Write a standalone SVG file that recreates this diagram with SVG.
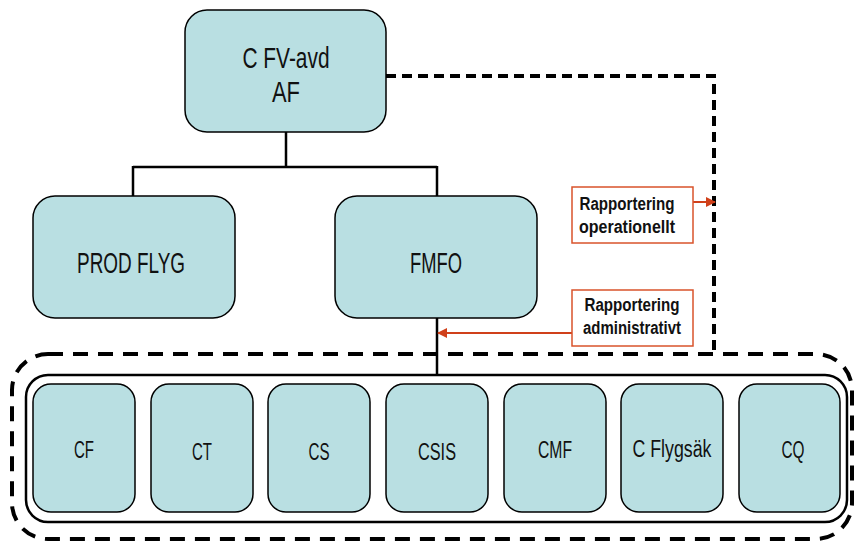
<svg xmlns="http://www.w3.org/2000/svg" width="854" height="541" viewBox="0 0 854 541">
<defs>
<style>
.box{fill:#b9dfe2;stroke:#000;stroke-width:1.5}
.t{font-family:"Liberation Sans",Arial,sans-serif;fill:#111;text-anchor:middle}
.big{font-size:29px}
.sm{font-size:23px}
.lbl{font-size:18px;font-weight:bold}
.lb{fill:#fff;stroke:#d9532b;stroke-width:1.5}
.conn{fill:none;stroke:#000;stroke-width:2.5}
.dash{fill:none;stroke:#000;stroke-width:4;stroke-dasharray:10 6}
.red{fill:none;stroke:#d0401a;stroke-width:2}
</style>
<marker id="ah" viewBox="0 0 10 10" refX="9" refY="5" markerWidth="5" markerHeight="5" orient="auto"><path d="M0,0 L10,5 L0,10 z" fill="#d0401a"/></marker>
</defs>
<g id="connectors">
<path class="conn" d="M286,132 V167 M133,167 H437 M133,166 V197 M437,166 V197 M437,318 V375"/>
<path class="dash" d="M386,76 H714 V353"/>
<path class="red" d="M572,333 H438" marker-end="url(#ah)"/>
<path class="red" d="M693,202 H715" marker-end="url(#ah)"/>
</g>
<g id="group-outer">
<rect x="12" y="354" width="840" height="185" rx="36" fill="none" stroke="#000" stroke-width="4" stroke-dasharray="15 10"/>
<rect x="26" y="375" width="821" height="147" rx="22" fill="none" stroke="#000" stroke-width="2.5"/>
</g>
<g id="n-cfv"><rect class="box" x="185" y="10" width="201" height="122" rx="22"/>
<text class="t big" x="286" y="68" textLength="87" lengthAdjust="spacingAndGlyphs">C FV-avd</text>
<text class="t big" x="286" y="102" textLength="28" lengthAdjust="spacingAndGlyphs">AF</text></g>
<g id="n-prod"><rect class="box" x="33" y="196" width="202" height="122" rx="22"/>
<text class="t big" x="131" y="273" textLength="108" lengthAdjust="spacingAndGlyphs">PROD FLYG</text></g>
<g id="n-fmfo"><rect class="box" x="335" y="196" width="202" height="122" rx="22"/>
<text class="t big" x="436" y="273" textLength="52" lengthAdjust="spacingAndGlyphs">FMFO</text></g>
<g id="n-op"><rect class="lb" x="572" y="187" width="121" height="56"/>
<text class="t lbl" x="627" y="210" textLength="95" lengthAdjust="spacingAndGlyphs">Rapportering</text>
<text class="t lbl" x="627" y="233" textLength="96" lengthAdjust="spacingAndGlyphs">operationellt</text></g>
<g id="n-adm"><rect class="lb" x="572" y="290" width="121" height="56"/>
<text class="t lbl" x="632" y="311" textLength="95" lengthAdjust="spacingAndGlyphs">Rapportering</text>
<text class="t lbl" x="632" y="334" textLength="98" lengthAdjust="spacingAndGlyphs">administrativt</text></g>
<g id="n-cf"><rect class="box" x="33" y="384" width="102" height="128" rx="18"/><text class="t sm" x="84" y="458" textLength="20" lengthAdjust="spacingAndGlyphs">CF</text></g>
<g id="n-ct"><rect class="box" x="151" y="384" width="102" height="128" rx="18"/><text class="t sm" x="202" y="460" textLength="20" lengthAdjust="spacingAndGlyphs">CT</text></g>
<g id="n-cs"><rect class="box" x="268" y="384" width="102" height="128" rx="18"/><text class="t sm" x="319" y="460" textLength="21" lengthAdjust="spacingAndGlyphs">CS</text></g>
<g id="n-csis"><rect class="box" x="386" y="384" width="102" height="128" rx="18"/><text class="t sm" x="437" y="460" textLength="38" lengthAdjust="spacingAndGlyphs">CSIS</text></g>
<g id="n-cmf"><rect class="box" x="504" y="384" width="102" height="128" rx="18"/><text class="t sm" x="555" y="458" textLength="34" lengthAdjust="spacingAndGlyphs">CMF</text></g>
<g id="n-cfs"><rect class="box" x="621" y="384" width="102" height="128" rx="18"/><text class="t sm" x="672" y="457" textLength="79" lengthAdjust="spacingAndGlyphs">C Flygsäk</text></g>
<g id="n-cq"><rect class="box" x="739" y="384" width="101" height="128" rx="18"/><text class="t sm" x="793" y="458" textLength="23" lengthAdjust="spacingAndGlyphs">CQ</text></g>
</svg>
